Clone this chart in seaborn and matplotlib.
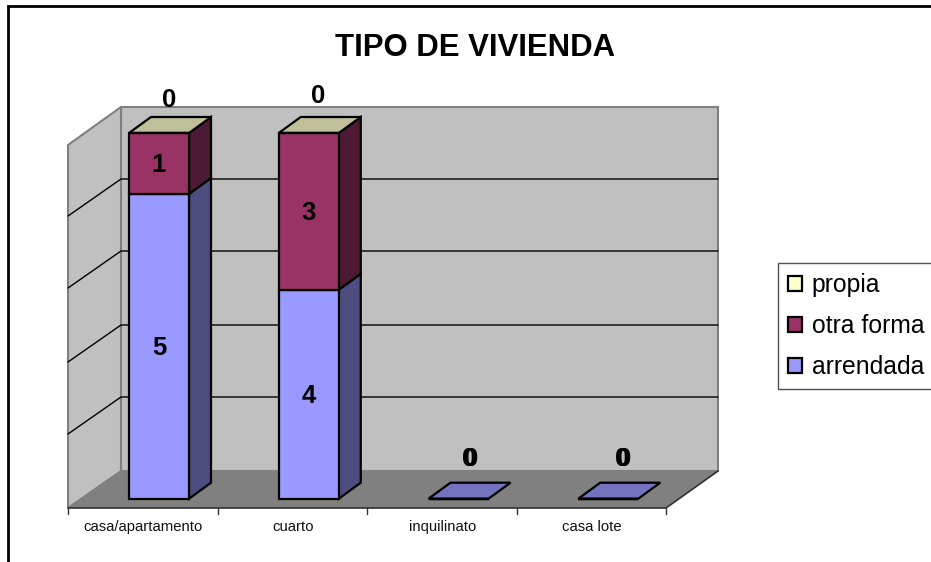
import matplotlib
matplotlib.use("Agg")
import matplotlib.pyplot as plt
from matplotlib.patches import Polygon, Rectangle
import numpy as np
import seaborn as sns

# datos del grafico
categorias = ["casa/apartamento", "cuarto", "inquilinato", "casa lote"]
arrendada = [5, 4, 0, 0]
otra_forma = [1, 3, 0, 0]
propia = [0, 0, 0, 0]

sns.set_style("white")
plt.rcParams['font.family'] = ['Liberation Sans', 'DejaVu Sans']
plt.rcParams['text.color'] = 'black'

W, H = 931, 562
PASO = 149.75   # pixeles por categoria
PCT = 3.657     # pixeles por 1%
X0, Y0 = 159, 498.7   # centro de la primera barra, base de barras


def dx(px):
    return (px - X0) / PASO


def dy(py):
    return (Y0 - py) / PCT


fig = plt.figure(figsize=(W / 100, H / 100), dpi=100)
ax = fig.add_axes([0, 0, 1, 1])

arr = np.array(arrendada, dtype=float)
otr = np.array(otra_forma, dtype=float)
pro = np.array(propia, dtype=float)
total = arr + otr + pro
factor = np.divide(100, total, out=np.zeros(4), where=total > 0)
arr_pct, otr_pct, pro_pct = arr * factor, otr * factor, pro * factor


def poli(puntos, color, ec="none", lw=0, z=1):
    ax.add_patch(Polygon([(dx(a), dy(b)) for a, b in puntos], closed=True, fc=color, ec=ec, lw=lw, zorder=z))


# paredes y piso
poli([(121, 107), (718, 107), (718, 471), (121, 471)], "#c0c0c0", "#808080", 1.5)
poli([(68, 145), (121, 107), (121, 471), (68, 508)], "#c0c0c0", "#808080", 1.5)
poli([(68, 508), (121, 471), (718, 471), (666, 508)], "#808080")
for g in [179, 251, 325, 397]:
    ax.plot([dx(68), dx(121), dx(718)], [dy(g + 37), dy(g), dy(g)], color="black", lw=1, zorder=1.5)
ax.plot([dx(68), dx(666), dx(718)], [dy(508), dy(508), dy(471)], color="#303030", lw=1.2, zorder=1.5)
for i in range(5):
    t = 68 + i * 149.5
    ax.plot([dx(t), dx(t)], [dy(508), dy(514)], color="#303030", lw=1, zorder=1.5)

# barras apiladas al 100%
ANCHO = 60 / PASO
series = [("arrendada", arr_pct, 0 * arr_pct, "#9999ff"),
          ("otra forma", otr_pct, arr_pct, "#993366"),
          ("propia", pro_pct, arr_pct + otr_pct, "#ffffcc")]
for nombre, valores, base, color in series:
    sns.barplot(x=categorias, y=valores, bottom=base, order=categorias, color=color, saturation=1,
                width=ANCHO, edgecolor="black", linewidth=1.6, label=nombre, ax=ax, zorder=3)

# caras 3D de cada barra
PROF_X, PROF_Y = 22 / PASO, 16 / PCT
LADO = {"arrendada": "#4d4d80", "otra forma": "#4d1a33"}
for i in range(len(categorias)):
    der = i + ANCHO / 2
    izq = i - ANCHO / 2
    for nombre, valores, base, color in series[:2]:
        if valores[i] > 0:
            ax.add_patch(Polygon([(der, base[i]), (der + PROF_X, base[i] + PROF_Y),
                                  (der + PROF_X, base[i] + valores[i] + PROF_Y), (der, base[i] + valores[i])],
                                 fc=LADO[nombre], ec="black", lw=1.6, zorder=2.5))
    techo = arr_pct[i] + otr_pct[i] + pro_pct[i]
    color_techo = "#bfbf99" if total[i] > 0 else "#7373bf"
    ax.add_patch(Polygon([(izq, techo), (der, techo), (der + PROF_X, techo + PROF_Y), (izq + PROF_X, techo + PROF_Y)],
                         fc=color_techo, ec="black", lw=1.6, zorder=2.5))

# etiquetas de valores
for nombre, valores, base, color in series[:2]:
    originales = arr if nombre == "arrendada" else otr
    for i in range(len(categorias)):
        if originales[i] > 0:
            ax.text(i, base[i] + valores[i] / 2 - 0.4, "%d" % originales[i], ha="center", va="center",
                    fontsize=18.5, fontweight="bold", color="black", zorder=5)
# los ceros quedan encima de la barra, corridos a ojo
ax.text(dx(169), dy(100), "%d" % propia[0], ha="center", va="center", fontsize=18.5, fontweight="bold", zorder=5)
ax.text(dx(318), dy(96), "%d" % propia[1], ha="center", va="center", fontsize=18.5, fontweight="bold", zorder=5)
for i, cx in [(2, 470), (3, 623)]:
    for corr, v in zip([-0.8, 0, 0.8], [arrendada[i], otra_forma[i], propia[i]]):
        ax.text(dx(cx + corr), dy(459), "%d" % v, ha="center", va="center", fontsize=18.5, fontweight="bold", zorder=5)

# etiquetas del eje
for i, c in enumerate(categorias):
    ax.text(dx(143.5 + i * 149.5), dy(527), c, ha="center", va="center", fontsize=10.7, color="#111111")

ax.text(dx(475), dy(48), "TIPO DE VIVIENDA", ha="center", va="center", fontsize=22.4, fontweight="bold", color="black")

# marco exterior
ax.add_patch(Rectangle((dx(8), dy(H + 20)), (W + 30) / PASO, (H + 20 - 6) / PCT, fc="none", ec="black", lw=2, zorder=6))

ax.set_xlim(dx(0), dx(W))
ax.set_ylim(dy(H), dy(0))
ax.axis("off")

handles, labels = ax.get_legend_handles_labels()
leg = ax.legend(handles[::-1], labels[::-1], loc="upper left", bbox_to_anchor=(778 / W, 1 - 263 / H),
                bbox_transform=fig.transFigure, fontsize=17.8, frameon=True, fancybox=False, framealpha=1,
                edgecolor="#505050", borderaxespad=0, borderpad=0.42, labelspacing=0.68,
                handlelength=0.55, handleheight=0.55, handletextpad=0.4, labelcolor="black")
leg.get_frame().set_linewidth(1)
leg.set_zorder(7)

fig.savefig("out.png", dpi=100)
